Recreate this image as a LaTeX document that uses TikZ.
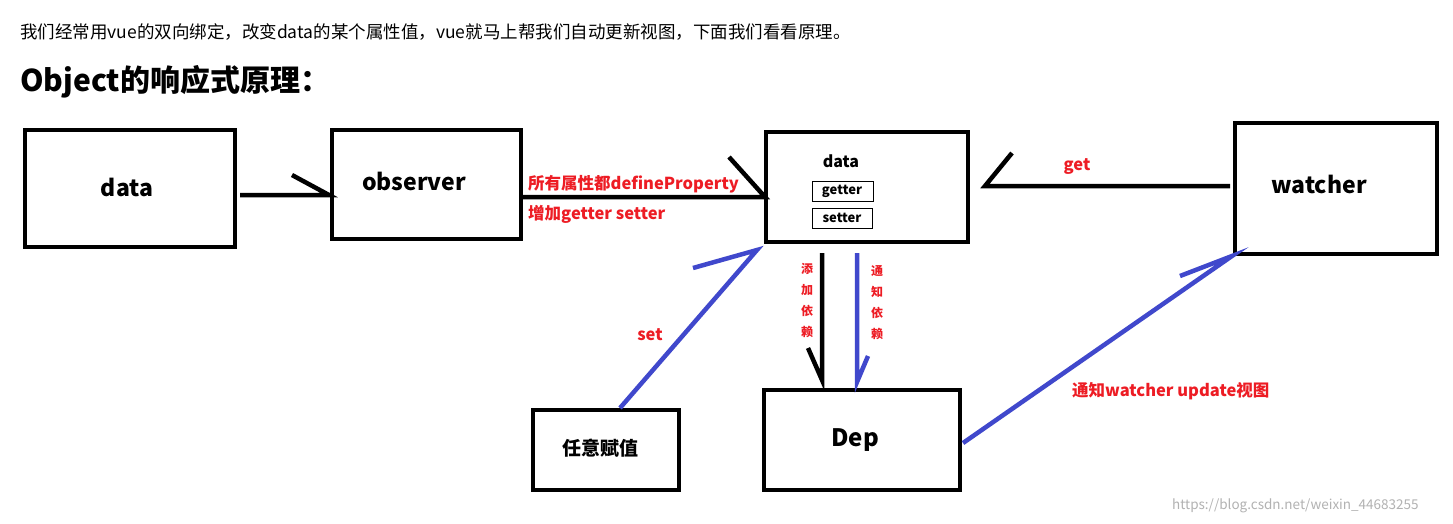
\documentclass[tikz,border=0pt]{standalone}
\usepackage{fontspec}
\setmainfont{Noto Sans CJK SC}
\newcommand\lat{}
\begin{document}
\begin{tikzpicture}[x=1pt,y=-1pt,
  box/.style={draw=black,line width=4.5pt,inner sep=0pt},
  small/.style={draw=black,line width=1pt,inner sep=0pt},
  blk/.style={draw=black,line width=4.5pt},
  blu/.style={line width=4.5pt,color={rgb,255:red,64;green,72;blue,204}},
  red/.style={text={rgb,255:red,237;green,28;blue,36},font=\fontsize{16.5}{16.5}\selectfont\bfseries}]
\useasboundingbox (0,0) rectangle (1453,523);
\fill[white] (0,0) rectangle (1453,523);
\node[anchor=west,inner sep=0pt,font=\fontsize{17.5}{17.5}\selectfont] (intro) at (20,32) {我们经常用vue的双向绑定，改变data的某个属性值，vue就马上帮我们自动更新视图，下面我们看看原理。};
\node[anchor=west,inner sep=0pt,font=\fontsize{30}{30}\selectfont\bfseries] (title) at (20,82) {Object的响应式原理：};
% boxes
\draw[box] (25,130) rectangle (235,247); \node[font=\fontsize{23}{23}\selectfont\bfseries\lat] (d1) at (127,187) {data};
\draw[box] (332,130) rectangle (521,239); \node[font=\fontsize{23}{23}\selectfont\bfseries\lat] (ob) at (414,181) {observer};
\draw[box] (766,132) rectangle (968,242); \node[font=\fontsize{16}{16}\selectfont\bfseries\lat] (d2) at (841,161) {data};
\draw[small] (812,181) rectangle (873,201); \node[font=\fontsize{13}{13}\selectfont\bfseries\lat] (g) at (842,191) {getter};
\draw[small] (812,208) rectangle (872,228); \node[font=\fontsize{13}{13}\selectfont\bfseries\lat] (s) at (842,218) {setter};
\draw[box] (1235,123) rectangle (1437,254); \node[font=\fontsize{23}{23}\selectfont\bfseries\lat] (w) at (1319,184) {watcher};
\draw[box] (533,410) rectangle (679,490); \node[font=\fontsize{19}{19}\selectfont\bfseries] (r) at (600,448) {任意赋值};
\draw[box] (764,390) rectangle (960,490); \node[font=\fontsize{24}{24}\selectfont\bfseries\lat] (dep) at (855,440) {Dep};
% arrows
\coordinate (a1) at (240,195); \coordinate (a2) at (329,195); \coordinate (a3) at (292,175);
\draw[blk] (a1) -- (a2) -- (a3);
\coordinate (b1) at (521,197); \coordinate (b2) at (765,197); \coordinate (b3) at (729,157);
\draw[blk] (b1) -- (b2) -- (b3);
\coordinate (c1) at (1230,186); \coordinate (c2) at (985,186); \coordinate (c3) at (1012,153);
\draw[blk] (c1) -- (c2) -- (c3);
\coordinate (e1) at (620,408); \coordinate (e2) at (757,250); \coordinate (e3) at (693,268);
\draw[blu] (e1) -- (e2) -- (e3);
\coordinate (f1) at (822,253); \coordinate (f2) at (822,380); \coordinate (f3) at (808,348);
\draw[blk] (f1) -- (f2) -- (f3);
\coordinate (h1) at (857,253); \coordinate (h2) at (857,382); \coordinate (h3) at (868,356);
\draw[blu] (h1) -- (h2) -- (h3);
\coordinate (k1) at (963,443); \coordinate (k2) at (1232,256); \coordinate (k3) at (1180,276);
\draw[blu] (k1) -- (k2) -- (k3);
% labels
\node[red,anchor=west,inner sep=0pt] (l1) at (528,184) {所有属性都defineProperty};
\node[red,anchor=west,inner sep=0pt] (l2) at (528,214) {增加getter setter};
\node[red,inner sep=0pt] (l3) at (1077,167) {get};
\node[red,inner sep=0pt] (l4) at (650,335) {set};
\node[red,inner sep=0pt,font=\fontsize{12}{12}\selectfont\bfseries,align=center] (l5) at (807,300) {添\\[9pt]加\\[9pt]依\\[9pt]赖};
\node[red,inner sep=0pt,font=\fontsize{12}{12}\selectfont\bfseries,align=center] (l6) at (877,303) {通\\[9pt]知\\[9pt]依\\[9pt]赖};
\node[red,anchor=west,inner sep=0pt] (l7) at (1072,391) {通知watcher update视图};
\node[anchor=west,inner sep=0pt,text=gray!60,font=\fontsize{13.5}{13.5}\selectfont] (wm) at (1172,506) {https://blog.csdn.net/weixin\_44683255};
\end{tikzpicture}
\end{document}
